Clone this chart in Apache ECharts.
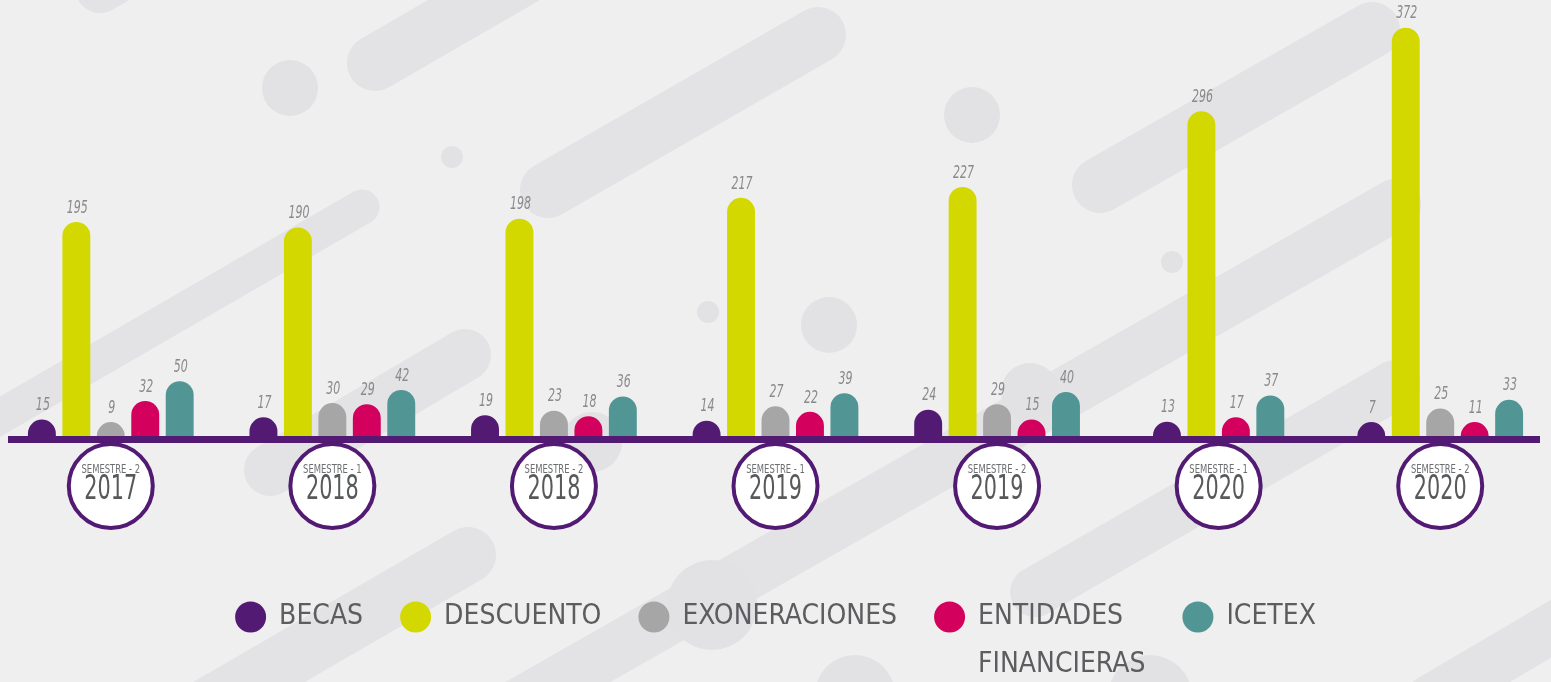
<!DOCTYPE html>
<html><head><meta charset="utf-8">
<script src="https://cdn.jsdelivr.net/npm/echarts@6/dist/echarts.min.js"></script>
<style>html,body{margin:0;padding:0;background:#efefef}#c{width:1551px;height:682px}</style>
</head><body><div id="c"></div>
<script>
// ---------- data ----------
const categories = ['2017-2', '2018-1', '2018-2', '2019-1', '2019-2', '2020-1', '2020-2'];
const semesters = ['SEMESTRE - 2', 'SEMESTRE - 1', 'SEMESTRE - 2', 'SEMESTRE - 1', 'SEMESTRE - 2', 'SEMESTRE - 1', 'SEMESTRE - 2'];
const years = ['2017', '2018', '2018', '2019', '2019', '2020', '2020'];
const becas = [15, 17, 19, 14, 24, 13, 7];
const descuento = [195, 190, 198, 217, 227, 296, 372];
const exoneraciones = [9, 30, 23, 27, 29, null, 25];
const entidades = [32, 29, 18, 22, 15, 17, 11];
const icetex = [50, 42, 36, 39, 40, 37, 33];
const seriesNames = ['BECAS', 'DESCUENTO', 'EXONERACIONES', 'ENTIDADES FINANCIERAS', 'ICETEX'];

// ---------- style ----------
const colors = ['#521a72', '#d3d800', '#a6a6a6', '#d4005e', '#519594'];
const seriesData = [becas, descuento, exoneraciones, entidades, icetex];

function pickFont(list) {
  const ctx = document.createElement('canvas').getContext('2d');
  const s = 'ABCDEFGHIJKLM 0123456789';
  for (const f of list) {
    ctx.font = '40px monospace';
    const a = ctx.measureText(s).width;
    ctx.font = '40px "' + f + '", monospace';
    const b = ctx.measureText(s).width;
    if (Math.abs(a - b) > 0.5) return f;
  }
  return 'sans-serif';
}
const FONT = pickFont(['Liberation Sans Narrow', 'DejaVu Sans Condensed', 'Roboto Condensed', 'Open Sans Condensed']);

// decorative background shapes (x1, y1, x2, y2, width) and dots (cx, cy, r)
const decorPills = [
  [100, -12, 300, -127, 50],
  [375, 63, 600, -67, 56],
  [548, 190, 818, 35, 56],
  [1100, 185, 1372, 30, 56],
  [362, 207, -40, 440, 35],
  [270, 470, 465, 355, 52],
  [468, 555, 180, 722, 56],
  [1395, 205, 500, 715, 52],
  [1035, 592, 1395, 385, 50],
  [1600, 600, 1430, 700, 50]
];
const decorDots = [[290, 88, 28], [452, 157, 11], [708, 312, 11], [972, 115, 28], [829, 325, 28], [1172, 262, 11], [712, 605, 45], [855, 695, 40], [1150, 697, 42], [592, 442, 30], [1030, 392, 29]];

const graphics = [];
decorPills.forEach(p => {
  const [x1, y1, x2, y2, w] = p;
  const L = Math.hypot(x2 - x1, y2 - y1);
  graphics.push({
    type: 'rect', x: (x1 + x2) / 2, y: (y1 + y2) / 2,
    rotation: Math.atan2(-(y2 - y1), x2 - x1),
    shape: { x: -L / 2 - w / 2, y: -w / 2, width: L + w, height: w, r: w / 2 },
    style: { fill: '#e3e3e5' }, z: -10, silent: true
  });
});
decorDots.forEach(d => {
  graphics.push({ type: 'circle', shape: { cx: d[0], cy: d[1], r: d[2] }, style: { fill: '#e2e2e4' }, z: -10, silent: true });
});
// baseline
graphics.push({ type: 'rect', shape: { x: 8, y: 436, width: 1532, height: 7 }, style: { fill: '#521a72' }, z: -1, silent: true });

function makeRender(s) {
  return function (params, api) {
    const i = api.value(0), v = api.value(1);
    const present = seriesData.map((d, k) => (d[i] != null ? k : -1)).filter(k => k >= 0);
    const pos = present.indexOf(s), n = present.length;
    const band = api.size([1, 0])[0];
    const step = band * 0.1555, w = band * 0.126;
    const top = api.coord([i, v]), base = api.coord([i, 0]);
    const cx = top[0] + (pos - (n - 1) / 2) * step;
    const h = Math.max(base[1] - top[1], w / 2);
    return {
      type: 'group', children: [
        { type: 'rect', shape: { x: cx - w / 2, y: base[1] - h, width: w, height: h, r: [w / 2, w / 2, 0, 0] }, style: { fill: colors[s] } },
        { type: 'text', x: cx + 1, y: base[1] - h - 5, scaleX: 0.68,
          style: { text: String(v), x: 0, y: 0, align: 'center', verticalAlign: 'bottom', fill: '#8a8a8c', fontFamily: FONT, fontSize: 18, fontStyle: 'italic' } }
      ]
    };
  };
}

const series = seriesNames.map((name, s) => ({
  name: name,
  type: 'custom',
  renderItem: makeRender(s),
  itemStyle: { color: colors[s] },
  encode: { x: 0, y: 1 },
  data: seriesData[s].map((v, i) => (v == null ? null : [i, v])).filter(d => d)
}));

// semester badges under the axis
series.push({
  name: 'periodos',
  type: 'custom',
  silent: true,
  clip: false,
  z: 3,
  encode: { x: 0, y: 1 },
  data: categories.map((c, i) => [i, 0]),
  renderItem: function (params, api) {
    const i = api.value(0);
    const p = api.coord([i, 0]);
    const cy = p[1] + 50;
    return {
      type: 'group', children: [
        { type: 'circle', shape: { cx: p[0], cy: cy, r: 42 }, style: { fill: '#ffffff', stroke: '#521a72', lineWidth: 4 } },
        { type: 'text', x: p[0], y: cy - 16, scaleX: 0.78,
          style: { text: semesters[i], x: 0, y: 0, align: 'center', verticalAlign: 'middle', fill: '#6d6e70', fontFamily: FONT, fontSize: 12 } },
        { type: 'text', x: p[0], y: cy + 4, scaleX: 0.68,
          style: { text: years[i], x: 0, y: 0, align: 'center', verticalAlign: 'middle', fill: '#58595b', fontFamily: FONT, fontSize: 34 } }
      ]
    };
  }
});

const chart = echarts.init(document.getElementById('c'));
chart.setOption({
  backgroundColor: '#efefef',
  animation: false,
  grid: { left: -9, right: -1, top: 19, bottom: 246 },
  xAxis: {
    type: 'category', data: categories,
    axisLine: { show: false }, axisTick: { show: false }, splitLine: { show: false },
    axisLabel: { show: false }
  },
  yAxis: { type: 'value', min: 0, max: 380, show: false },
  legend: {
    data: seriesNames, left: 'center', top: 545, padding: 0,
    icon: 'circle', itemWidth: 31, itemHeight: 31, itemGap: 37, selectedMode: false,
    formatter: n => (n === 'ENTIDADES FINANCIERAS' ? ' \nENTIDADES\nFINANCIERAS' : n),
    textStyle: { fontFamily: FONT, fontSize: 28, color: '#5d5d60', lineHeight: 48, padding: [0, 0, 0, 8] }
  },
  graphic: graphics,
  series: series
});
</script></body></html>
